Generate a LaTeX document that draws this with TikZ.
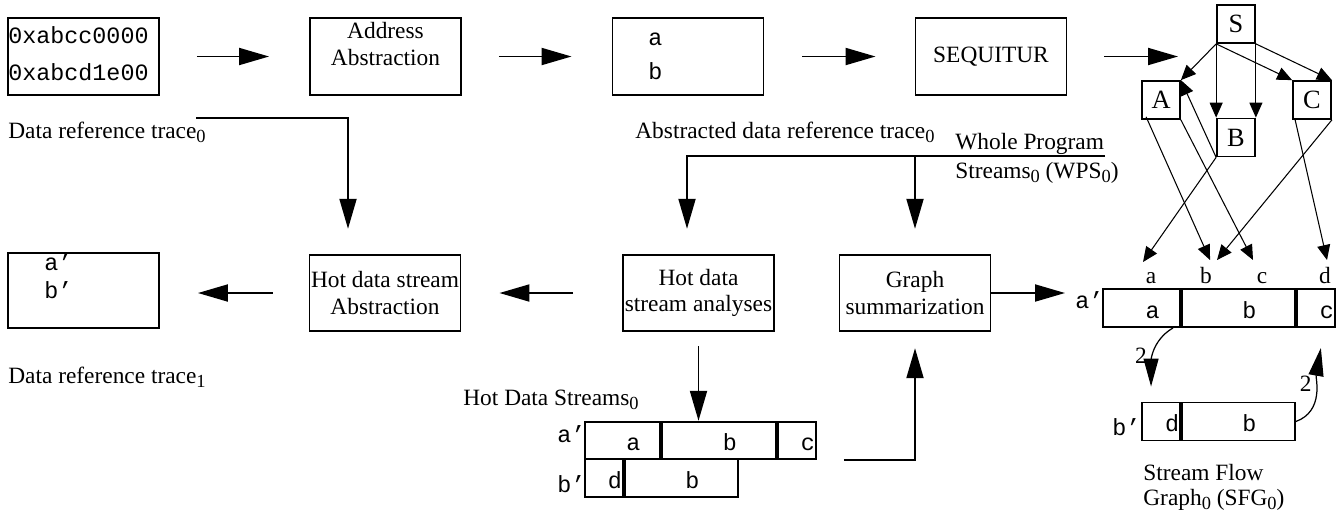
\documentclass[tikz,border=0pt]{standalone}
\usepackage{fontspec}
\setmainfont{Liberation Serif}
\setmonofont{Liberation Mono}
\usetikzlibrary{arrows.meta, positioning}

\newcommand{\rmsz}{\fontsize{13.3}{14.9}\selectfont}
\newcommand{\ttsz}{\ttfamily\fontsize{13.3}{16}\selectfont}
\newcommand{\lowsub}[1]{\raisebox{-0.45ex}{\fontsize{10.5}{12}\selectfont #1}}

\begin{document}
\begin{tikzpicture}[
    x=0.02cm, y=0.02cm,
    block/.style={draw, line width=1.1pt, align=center, inner sep=0pt,
    minimum width=3.02cm, minimum height=1.53cm, font=\rmsz},
    sym/.style={draw, line width=1pt, minimum size=0.76cm, inner sep=0pt,
    font=\fontsize{15}{17}\selectfont},
    cell/.style={draw, line width=1.1pt, minimum height=0.75cm, inner sep=0pt,
    text height=0.4cm, text depth=0pt, font=\ttsz,
    execute at begin node={\hspace*{0.44cm}}},
    txt/.style={inner sep=0pt, anchor=base west, font=\rmsz},
    mono/.style={inner sep=0pt, anchor=base west, font=\ttsz},
    arr/.style={-{Triangle[length=0.6cm, width=0.34cm]}, line width=1.1pt},
    thin arr/.style={-{Triangle[length=0.3cm, width=0.26cm]}, line width=0.6pt},
    bend arr/.style={-{Triangle[length=0.56cm, width=0.3cm]}, line width=0.7pt}
    ]
    \useasboundingbox (0,0) rectangle (1341,-515);

    % first row
    \node[block]  (tr0)   at (83.5,-56.5)   {};
    \node[block]  (addr)  at (385.5,-56.5)  {};
    \node[block]  (abs0)  at (688,-56.5)    {};
    \node[block]  (seq)   at (991,-56.5)    {SEQUITUR};
    \node[mono]   (tr0a)  at (8,-43)        {0xabcc0000};
    \node[mono]   (tr0b)  at (8,-80)        {0xabcd1e00};
    \node[txt, anchor=base] (addr1) at (385.5,-38) {Address};
    \node[txt, anchor=base] (addr2) at (385.5,-65) {Abstraction};
    \node[mono]   (absa)  at (648,-45)      {a};
    \node[mono]   (absb)  at (648,-79)      {b};
    \node[txt]    (ltr0)  at (8,-138)       {Data reference trace\lowsub{0}};
    \node[txt]    (labs)  at (635,-138)     {Abstracted data reference trace\lowsub{0}};
    \node[txt]    (lwps1) at (955,-149)     {Whole Program};
    \node[txt]    (lwps2) at (955,-178)     {Streams\lowsub{0} (WPS\lowsub{0})};

    % grammar
    \node[sym]    (gS)    at (1236,-24)     {S};
    \node[sym]    (gA)    at (1161,-100)    {A};
    \node[sym]    (gB)    at (1236,-137.5)  {B};
    \node[sym]    (gC)    at (1312,-100)    {C};
    \node[txt, anchor=base] (ta) at (1151,-283) {a};
    \node[txt, anchor=base] (tb) at (1206,-283) {b};
    \node[txt, anchor=base] (tc) at (1262,-283) {c};
    \node[txt, anchor=base] (td) at (1325,-283) {d};

    % second row
    \node[block, minimum height=1.5cm] (tr1) at (83.5,-290.5) {};
    \node[block]  (hdsabs) at (385,-293)    {Hot data stream\\Abstraction};
    \node[block]  (hdsana) at (698.5,-293)  {Hot data\\stream analyses};
    \node[block]  (gsum)   at (915,-293)    {Graph\\summarization};
    \node[mono]   (tr1a)  at (44,-270)      {a’};
    \node[mono]   (tr1b)  at (44,-298)      {b’};
    \node[txt]    (ltr1)  at (8,-383)       {Data reference trace\lowsub{1}};

    % hot data streams
    \node[txt]    (lhds)  at (463,-405)     {Hot Data Streams\lowsub{0}};
    \node[cell, minimum width=1.5cm]  (hA1) at (622.5,-440.5) {a};
    \node[cell, minimum width=2.28cm, right=0pt of hA1] (hA2) {b};
    \node[cell, minimum width=0.76cm, right=0pt of hA2] (hA3) {c};
    \node[cell, minimum width=0.76cm]  (hB1) at (604,-478) {d};
    \node[cell, minimum width=2.26cm, right=0pt of hB1] (hB2) {b};
    \node[mono]   (hla)   at (557,-442)     {a’};
    \node[mono]   (hlb)   at (557,-492)     {b’};

    % stream flow graph
    \node[cell, minimum width=1.54cm, minimum height=0.76cm] (sA1) at (1141.5,-308) {a};
    \node[cell, minimum width=2.26cm, minimum height=0.76cm, right=0pt of sA1] (sA2) {b};
    \node[cell, minimum width=0.76cm, minimum height=0.76cm, right=0pt of sA2] (sA3) {c};
    \node[cell, minimum width=0.76cm, minimum height=0.76cm] (sB1) at (1161,-421.5) {d};
    \node[cell, minimum width=2.26cm, minimum height=0.76cm, right=0pt of sB1] (sB2) {b};
    \node[mono]   (sla)   at (1075,-308)    {a’};
    \node[mono]   (slb)   at (1112,-435)    {b’};
    \node[txt]    (lsfg1) at (1143,-480)    {Stream Flow};
    \node[txt]    (lsfg2) at (1143,-505)    {Graph\lowsub{0} (SFG\lowsub{0})};

    \coordinate (gin)   at (1178,-56.5);
    \coordinate (sfgin) at (1065,-293);
    \coordinate (tr0out) at (196,-118);
    \coordinate (wps)   at (1105,-156);

    \path[arr]
    (tr0)    edge[shorten <=0.74cm, shorten >=0.8cm]  (addr)
    (addr)   edge[shorten <=0.74cm, shorten >=0.8cm]  (abs0)
    (abs0)   edge[shorten <=0.76cm, shorten >=0.78cm] (seq)
    (seq)    edge[shorten <=0.74cm]                   (gin)
    (hdsana) edge[shorten <=0.98cm, shorten >=0.76cm] (hdsabs)
    (hdsabs) edge[shorten <=0.72cm, shorten >=0.76cm] (hdsabs -| tr1.east)
    (gsum)   edge                                     (sfgin)
    ;
    \draw[arr, shorten >=0.5cm] (tr0out) -| ([xshift=-0.74cm]hdsabs.north);
    \draw[arr, shorten >=0.5cm] (wps) -| ([xshift=-0.23cm]hdsana.north);
    \draw[arr, shorten >=0.5cm] (wps -| gsum.north) -- (gsum.north);
    \draw[arr, shorten <=0.28cm] (hdsana.south) -- (hdsana.south |- hA2.north);
    \draw[arr, shorten >=0.32cm] ([xshift=0.54cm]hA3.south east) -| (gsum);

    \path[thin arr]
    (gS.south west) edge (gA.north east)
    (gS.south west) edge (gB.north west)
    (gS.south east) edge (gB.north east)
    (gS.south west) edge (gC.north west)
    (gS.south east) edge (gC.north east)
    (gB.south west) edge (gA.north east)
    (gB.south west) edge ([xshift=-0.16cm, yshift=0.42cm]ta.base)
    ([xshift=0.1cm, yshift=0.06cm]gA.south west) edge ([xshift=0.08cm, yshift=0.46cm]tb.base)
    (gA.south east) edge ([xshift=-0.18cm, yshift=0.46cm]tc.base)
    (gC.south east) edge ([xshift=0.22cm, yshift=0.46cm]tb.base)
    ([xshift=0.06cm]gC.south west) edge ([xshift=0.04cm, yshift=0.46cm]td.base)
    ;

    \draw[bend arr] ([xshift=-0.16cm]sA1.south east) to[out=210, in=90]
      node[left, pos=0.55, font=\rmsz] (w1) {2} ([xshift=0.2cm, yshift=0.3cm]sB1.north west);
    \draw[bend arr] (sB2.east) to[out=20, in=-100]
      node[left, pos=0.6, font=\rmsz] (w2) {2} ([xshift=0.5cm, yshift=-0.4cm]sA3.south west);
\end{tikzpicture}
\end{document}
